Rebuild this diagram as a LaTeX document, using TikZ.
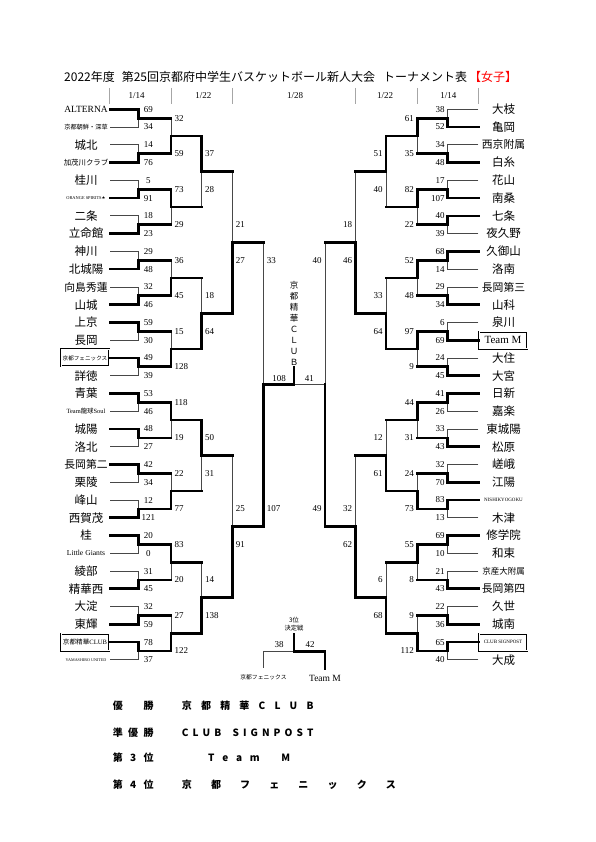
\documentclass[tikz,border=0pt]{standalone}
\usepackage{fontspec}
\setmainfont{Liberation Serif}
\newfontfamily\jpf{Noto Sans CJK JP}
\newfontfamily\djv{DejaVu Sans}
\pgfdeclarelayer{bgl}
\pgfdeclarelayer{thinl}
\pgfsetlayers{bgl,thinl,main}
\tikzset{
  thickline/.style={line width=2.7pt, line cap=rect, line join=miter},
  thinline/.style={line width=0.75pt, black!72},
  hdrline/.style={line width=0.5pt, black!35},
  sc/.style={font=\fontsize{9}{9}\selectfont, inner sep=0pt},
  tname/.style={font=\jpf\fontsize{11.5}{12}\selectfont, inner sep=0pt},
  tbox/.style={draw, double, line width=0.6pt, double distance=0.9pt, minimum width=48pt, minimum height=17pt, inner sep=0pt},
  res/.style={font=\jpf\bfseries\fontsize{10}{10}\selectfont, inner sep=0pt, anchor=west},
}
\newcommand\FourCh{\fontsize{10.8}{11}\selectfont}
% first-round match with team lines: #1 name edge, #2 column x, #3 next x, #4 pair index, #5 winner (1 top / 2 bottom)
\newcommand\MatchT[5]{%
  \pgfmathsetmacro\mYa{109.3+17.76*(2*#4)}%
  \pgfmathsetmacro\mYb{109.3+17.76*(2*#4+1)}%
  \pgfmathsetmacro\mYm{(\mYa+\mYb)/2}%
  \ifnum#5=1\relax
    \begin{pgfonlayer}{thinl}\draw[thinline] (#1,\mYb) -- (#2,\mYb) -- (#2,\mYm);\end{pgfonlayer}%
    \draw[thickline] (#1,\mYa) -- (#2,\mYa) -- (#2,\mYm) -- (#3,\mYm);%
  \else
    \begin{pgfonlayer}{thinl}\draw[thinline] (#1,\mYa) -- (#2,\mYa) -- (#2,\mYm);\end{pgfonlayer}%
    \draw[thickline] (#1,\mYb) -- (#2,\mYb) -- (#2,\mYm) -- (#3,\mYm);%
  \fi}
% later-round match: #1 column x, #2 next x, #3 row a, #4 row b, #5 winner
\newcommand\Match[5]{%
  \pgfmathsetmacro\mYa{109.3+17.76*(#3)}%
  \pgfmathsetmacro\mYb{109.3+17.76*(#4)}%
  \pgfmathsetmacro\mYm{(\mYa+\mYb)/2}%
  \ifnum#5=1\relax
    \begin{pgfonlayer}{thinl}\draw[thinline] (#1,\mYm) -- (#1,\mYb);\end{pgfonlayer}%
    \draw[thickline] (#1,\mYa) -- (#1,\mYm) -- (#2,\mYm);%
  \else
    \begin{pgfonlayer}{thinl}\draw[thinline] (#1,\mYa) -- (#1,\mYm);\end{pgfonlayer}%
    \draw[thickline] (#1,\mYb) -- (#1,\mYm) -- (#2,\mYm);%
  \fi}
\begin{document}
\begin{tikzpicture}[x=1pt,y=-1pt]
\useasboundingbox (0,0) rectangle (595,842);
\begin{pgfonlayer}{bgl}
\fill[white] (0,0) rectangle (595,842);
\end{pgfonlayer}

% title
\node[anchor=west, inner sep=0pt, font=\jpf\fontsize{12}{12}\selectfont] (title) at (64,77)
  {2022年度\hspace{7pt}第25回京都府中学生バスケットボール新人大会\hspace{8pt}トーナメント表\hspace{2pt}\textcolor{red}{【女子】}};

% date headers
\foreach \xx in {109.3,171,232.7,355.7,417.7,478.3}{
  \draw[hdrline] (\xx,88) -- (\xx,104);
}
\foreach \xx/\dd [count=\c] in {136.7/1\slash14, 203.3/1\slash22, 295/1\slash28, 385/1\slash22, 448.3/1\slash14}{
  \node[sc, font=\fontsize{9}{9}\selectfont] (d\c) at (\xx,95.7) {\dd};
}

% ---------------- left side names ----------------
\foreach \r/\t in {
 0/{\rmfamily\fontsize{9.5}{10}\selectfont ALTERNA},
 1/{\fontsize{6.2}{7}\selectfont 京都朝鮮・深草},
 2/{城北},
 3/{\fontsize{7.4}{8}\selectfont 加茂川クラブ},
 4/{桂川},
 5/{\rmfamily\fontsize{4.4}{5}\selectfont ORANGE SPIRITS{\djv★}},
 6/{二条},
 7/{立命館},
 8/{神川},
 9/{北城陽},
 10/{\FourCh 向島秀蓮},
 11/{山城},
 12/{上京},
 13/{長岡},
 15/{詳徳},
 16/{青葉},
 17/{\rmfamily\fontsize{6.4}{7}\selectfont Team{\jpf 龍球}Soul},
 18/{城陽},
 19/{洛北},
 20/{\FourCh 長岡第二},
 21/{栗陵},
 22/{峰山},
 23/{西賀茂},
 24/{桂},
 25/{\rmfamily\fontsize{7.6}{8}\selectfont Little Giants},
 26/{綾部},
 27/{精華西},
 28/{大淀},
 29/{東輝},
 31/{\rmfamily\fontsize{4.1}{5}\selectfont YAMASHIRO UNITED}}{
  \node[tname] (L\r) at (86,{109.3+17.76*\r}) {\t};
}
\node[tbox, font=\jpf\fontsize{5.6}{6}\selectfont] (L14) at (85,{109.3+17.76*14}) {京都フェニックス};
\node[tbox, font=\jpf\fontsize{6.6}{7}\selectfont] (L30) at (85,{109.3+17.76*30}) {京都精華\rmfamily CLUB};

% ---------------- right side names ----------------
\foreach \r/\t in {
 0/{大枝}, 1/{亀岡}, 2/{\FourCh 西京附属}, 3/{白糸}, 4/{花山}, 5/{南桑}, 6/{七条}, 7/{夜久野},
 8/{久御山}, 9/{洛南}, 10/{\FourCh 長岡第三}, 11/{山科}, 12/{泉川}, 14/{大住}, 15/{大宮},
 16/{日新}, 17/{嘉楽}, 18/{東城陽}, 19/{松原}, 20/{嵯峨}, 21/{江陽},
 22/{\rmfamily\fontsize{5}{5}\selectfont NISHIKYOGOKU}, 23/{木津},
 24/{修学院}, 25/{和束}, 26/{\fontsize{8.5}{9}\selectfont 京産大附属}, 27/{\FourCh 長岡第四},
 28/{久世}, 29/{城南}, 31/{大成}}{
  \node[tname] (R\r) at (503.5,{109.3+17.76*\r}) {\t};
}
\node[tbox, font=\fontsize{11}{11}\selectfont] (R13) at (503,{109.3+17.76*13}) {Team M};
\node[tbox, font=\fontsize{5}{5}\selectfont] (R30) at (503,{109.3+17.76*30}) {CLUB SIGNPOST};

% ---------------- left bracket ----------------
\foreach \k/\w in {0/1,1/2,2/2,3/2,4/2,5/2,6/1,7/1,8/1,9/1,10/1,11/2,12/1,13/2,14/2,15/1}{
  \MatchT{110}{138.5}{171}{\k}{\w}
}
\foreach \k/\w in {0/2,1/1,2/2,3/2,4/1,5/2,6/1,7/2}{
  \Match{171}{201.5}{4*\k+0.5}{4*\k+2.5}{\w}
}
\foreach \k/\w in {0/1,1/2,2/1,3/2}{
  \Match{201.5}{232.3}{8*\k+1.5}{8*\k+5.5}{\w}
}
\foreach \k/\w in {0/2,1/2}{
  \Match{232.3}{263.3}{16*\k+3.5}{16*\k+11.5}{\w}
}
% left semifinal
\Match{263.3}{294}{7.5}{23.5}{2}

% ---------------- right bracket ----------------
\foreach \k/\w in {0/2,1/2,2/2,3/1,4/1,5/2,6/2,7/2,8/1,9/2,10/2,11/1,12/1,13/2,14/2,15/1}{
  \MatchT{478.3}{447.7}{417.3}{\k}{\w}
}
\foreach \k/\w in {0/1,1/1,2/1,3/1,4/1,5/2,6/1,7/2}{
  \Match{417.3}{386}{4*\k+0.5}{4*\k+2.5}{\w}
}
\foreach \k/\w in {0/1,1/2,2/2,3/2}{
  \Match{386}{355.7}{8*\k+1.5}{8*\k+5.5}{\w}
}
\foreach \k/\w in {0/2,1/2}{
  \Match{355.7}{325}{16*\k+3.5}{16*\k+11.5}{\w}
}
% right semifinal (loses final)
\pgfmathsetmacro\ySa{109.3+17.76*7.5}
\pgfmathsetmacro\ySb{109.3+17.76*23.5}
\pgfmathsetmacro\ySm{109.3+17.76*15.5}
\begin{pgfonlayer}{thinl}
  \draw[thinline] (325,\ySa) -- (325,\ySm) -- (294,\ySm);
\end{pgfonlayer}
\draw[thickline] (325,\ySb) -- (325,\ySm);
% final winner line
\draw[thickline] (294,\ySm) -- (294,367.7);

% champion vertical text
\node[inner sep=0pt, align=center, font=\jpf\fontsize{8.5}{10.95}\selectfont] (champ) at (294,323.3)
  {京\\都\\精\\華\\Ｃ\\Ｌ\\Ｕ\\Ｂ};
\node[sc] (f1) at (279,378.3) {108};
\node[sc] (f2) at (309.3,378.3) {41};

% ---------------- scores ----------------
\foreach \r/\s [count=\c] in {0/69,1/34,2/14,3/76,4/5,5/91,6/18,7/23,8/29,9/48,10/32,11/46,12/59,13/30,14/49,15/39,16/53,17/46,18/48,19/27,20/42,21/34,22/12,23/121,24/20,25/0,26/31,27/45,28/32,29/59,30/78,31/37}{
  \node[sc] (sa\c) at (148.3,{109.3+17.76*\r}) {\s};
}
\foreach \r/\s [count=\c] in {0.5/32,2.5/59,4.5/73,6.5/29,8.5/36,10.5/45,12.5/15,14.5/128,16.5/118,18.5/19,20.5/22,22.5/77,24.5/83,26.5/20,28.5/27,30.5/122}{
  \node[sc, anchor=west] (sb\c) at (174.3,{109.3+17.76*\r}) {\s};
}
\foreach \r/\s [count=\c] in {2.5/37,4.5/28,10.5/18,12.5/64,18.5/50,20.5/31,26.5/14,28.5/138}{
  \node[sc, anchor=west] (sc\c) at (205,{109.3+17.76*\r}) {\s};
}
\foreach \r/\s [count=\c] in {6.5/21,8.5/27,22.5/25,24.5/91}{
  \node[sc, anchor=west] (sd\c) at (235.7,{109.3+17.76*\r}) {\s};
}
\foreach \r/\s [count=\c] in {8.5/33,22.5/107}{
  \node[sc, anchor=west] (se\c) at (266.7,{109.3+17.76*\r}) {\s};
}
% right scores
\foreach \r/\s [count=\c] in {0/38,1/52,2/34,3/48,4/17,5/107,6/40,7/39,8/68,9/14,10/29,11/34,12/6,13/69,14/24,15/45,16/41,17/26,18/33,19/43,20/32,21/70,22/83,23/13,24/69,25/10,26/21,27/43,28/22,29/36,30/65,31/40}{
  \node[sc, anchor=east] (ta\c) at (444.7,{109.3+17.76*\r}) {\s};
}
\foreach \r/\s [count=\c] in {0.5/61,2.5/35,4.5/82,6.5/22,8.5/52,10.5/48,12.5/97,14.5/9,16.5/44,18.5/31,20.5/24,22.5/73,24.5/55,26.5/8,28.5/9,30.5/112}{
  \node[sc, anchor=east] (tb\c) at (414,{109.3+17.76*\r}) {\s};
}
\foreach \r/\s [count=\c] in {2.5/51,4.5/40,10.5/33,12.5/64,18.5/12,20.5/61,26.5/6,28.5/68}{
  \node[sc, anchor=east] (tc\c) at (382.7,{109.3+17.76*\r}) {\s};
}
\foreach \r/\s [count=\c] in {6.5/18,8.5/46,22.5/32,24.5/62}{
  \node[sc, anchor=east] (td\c) at (352.3,{109.3+17.76*\r}) {\s};
}
\foreach \r/\s [count=\c] in {8.5/40,22.5/49}{
  \node[sc, anchor=east] (te\c) at (321.7,{109.3+17.76*\r}) {\s};
}

% ---------------- third place game ----------------
\node[inner sep=0pt, align=center, font=\jpf\fontsize{6.3}{8.3}\selectfont] (third) at (294,624.2) {3位\\決定戦};
\coordinate (tq) at (294,634);
\coordinate (tm) at (294,651.7);
\coordinate (tl) at (263.3,651.7);
\coordinate (tr) at (325,651.7);
\node[inner sep=0pt, font=\jpf\fontsize{5.8}{6}\selectfont] (tlname) at (263.5,677.7) {京都フェニックス};
\node[inner sep=0pt, font=\fontsize{9.5}{10}\selectfont] (trname) at (325,678) {Team M};
\begin{pgfonlayer}{thinl}
  \draw[thinline] (tm) -- (tl) -- (263.3,668.3);
\end{pgfonlayer}
\draw[thickline] (tq) -- (tm) -- (tr) -- (325,668.3);
\node[sc] (tsa) at (279,644.3) {38};
\node[sc] (tsb) at (310,644.3) {42};

% ---------------- results ----------------
\node[res] (ra1) at (112.7,705.7) {\makebox[40.6pt][s]{優\hfill 勝}};
\node[res] (ra2) at (112.7,732.7) {\makebox[40.6pt][s]{準\hfill 優\hfill 勝}};
\node[res] (ra3) at (112.7,757.7) {\makebox[40.6pt][s]{第\hfill 3\hfill 位}};
\node[res] (ra4) at (112.7,784.3) {\makebox[40.6pt][s]{第\hfill 4\hfill 位}};
\node[res] (rb1) at (181.7,705.7) {\makebox[131.6pt][s]{京\hfill 都\hfill 精\hfill 華\hfill C\hfill L\hfill U\hfill B}};
\node[res] (rb2) at (181.7,732.7) {\makebox[131.6pt][s]{C\hfill L\hfill U\hfill B\hfill\hspace{3pt}\hfill S\hfill I\hfill G\hfill N\hfill P\hfill O\hfill S\hfill T}};
\node[res] (rb3) at (208,757.7) {\makebox[82pt][s]{T\hfill e\hfill a\hfill m\hfill\hspace{6pt}\hfill M}};
\node[res] (rb4) at (181.7,784.3) {\makebox[214pt][s]{京\hfill 都\hfill フ\hfill ェ\hfill ニ\hfill ッ\hfill ク\hfill ス}};
\end{tikzpicture}
\end{document}
